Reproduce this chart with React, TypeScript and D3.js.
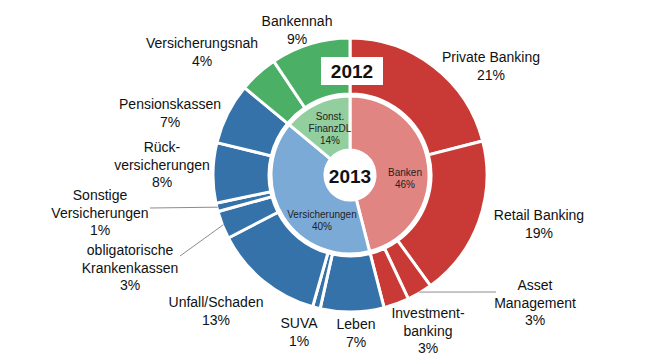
import * as d3 from "d3";
import { useRef, useEffect } from "react";

// outer ring (2012) – segment names, shown percent, angular share
const outerNames = [
  "Private Banking", "Retail Banking", "Asset|Management", "Investment-|banking",
  "Leben", "SUVA", "Unfall/Schaden", "obligatorische|Krankenkassen",
  "Sonstige|Versicherungen", "Rück-|versicherungen", "Pensionskassen",
  "Versicherungsnah", "Bankennah",
];
const outerPct = ["21%", "19%", "3%", "3%", "7%", "1%", "13%", "3%", "1%", "8%", "7%", "4%", "9%"];
const outerShare = [21, 19, 3, 3, 7.5, 0.9, 13, 3.3, 1, 7.1, 7.2, 4.6, 9.4];
const outerGroup = [0, 0, 0, 0, 1, 1, 1, 1, 1, 1, 1, 2, 2];

// inner ring (2013)
const innerNames = ["Banken", "Versicherungen", "Sonst.|FinanzDL"];
const innerPct = ["46%", "40%", "14%"];
const innerShare = [46, 40, 14];

const outerColors = ["#C93A36", "#3572A9", "#4BAF65"];
const innerColors = ["#E18582", "#7CAAD6", "#93CE9F"];

// label anchor positions relative to the centre (first line baseline)
const outerLabelPos: [number, number][] = [
  [141, -113], [189, 45], [185, 115], [78, 143],
  [6, 154], [-51, 153], [-134, 132], [-220, 80],
  [-250, 25], [-188, -23], [-180, -66], [-148, -127], [-53, -149],
];
const leaders = [2, 7, 8];
const leaderEnd: Record<number, [number, number]> = {
  2: [146, 117], 7: [-170, 81], 8: [-200, 33],
};
const innerLabelPos: [number, number][] = [[55, 1], [-28, 43], [-20, -55]];

const W = 665;
const H = 363;
const cx = 350;
const cy = 175;

const Chart = () => {
  const ref = useRef<SVGSVGElement>(null);

  useEffect(() => {
    const svg = d3.select(ref.current);
    svg.selectAll("*").remove();

    const g = svg.append("g").attr("transform", `translate(${cx},${cy})`);
    const pie = d3.pie<number>().sort(null).value((d) => d);

    const outerArcs = pie(outerShare);
    const innerArcs = pie(innerShare);

    const outerArc = d3.arc<d3.PieArcDatum<number>>().innerRadius(81).outerRadius(137);
    const innerArc = d3.arc<d3.PieArcDatum<number>>().innerRadius(25).outerRadius(79);

    g.selectAll("path.outer")
      .data(outerArcs)
      .join("path")
      .attr("class", "outer")
      .attr("d", outerArc)
      .attr("fill", (_, i) => outerColors[outerGroup[i]])
      .attr("stroke", "#fff")
      .attr("stroke-width", 3);

    g.selectAll("path.inner")
      .data(innerArcs)
      .join("path")
      .attr("class", "inner")
      .attr("d", innerArc)
      .attr("fill", (_, i) => innerColors[i])
      .attr("stroke", "#fff")
      .attr("stroke-width", 3);

    // leader lines
    leaders.forEach((i) => {
      const a = (outerArcs[i].startAngle + outerArcs[i].endAngle) / 2;
      const r = 136;
      const [ex, ey] = leaderEnd[i];
      g.append("line")
        .attr("x1", r * Math.sin(a))
        .attr("y1", -r * Math.cos(a))
        .attr("x2", ex)
        .attr("y2", ey)
        .attr("stroke", "#8c8c8c")
        .attr("stroke-width", 1);
    });

    const font = "'Liberation Sans', Arial, sans-serif";

    outerNames.forEach((name, i) => {
      const lines = [...name.split("|"), outerPct[i]];
      const [x, y] = outerLabelPos[i];
      const t = g.append("text")
        .attr("text-anchor", "middle")
        .attr("font-family", font)
        .attr("font-size", 14)
        .attr("fill", "#111");
      lines.forEach((l, k) => {
        t.append("tspan").attr("x", x).attr("y", y + k * 17.5).text(l);
      });
    });

    innerNames.forEach((name, i) => {
      const lines = [...name.split("|"), innerPct[i]];
      const [x, y] = innerLabelPos[i];
      const t = g.append("text")
        .attr("text-anchor", "middle")
        .attr("font-family", font)
        .attr("font-size", 10)
        .attr("fill", "#222");
      lines.forEach((l, k) => {
        t.append("tspan").attr("x", x).attr("y", y + k * 12).text(l);
      });
    });

    // year labels
    g.append("rect")
      .attr("x", -29)
      .attr("y", -118)
      .attr("width", 62)
      .attr("height", 28)
      .attr("fill", "#fff");
    g.append("text")
      .attr("x", 2)
      .attr("y", -97)
      .attr("text-anchor", "middle")
      .attr("font-family", font)
      .attr("font-weight", "bold")
      .attr("font-size", 19)
      .attr("fill", "#111")
      .text("2012");

    g.append("text")
      .attr("x", 0)
      .attr("y", 8)
      .attr("text-anchor", "middle")
      .attr("font-family", font)
      .attr("font-weight", "bold")
      .attr("font-size", 19)
      .attr("fill", "#111")
      .text("2013");
  }, []);

  return <svg ref={ref} width={W} height={H} style={{ display: "block" }} />;
};

export default function App() {
  return (
    <div style={{ margin: -8 }}>
      <Chart />
    </div>
  );
}
